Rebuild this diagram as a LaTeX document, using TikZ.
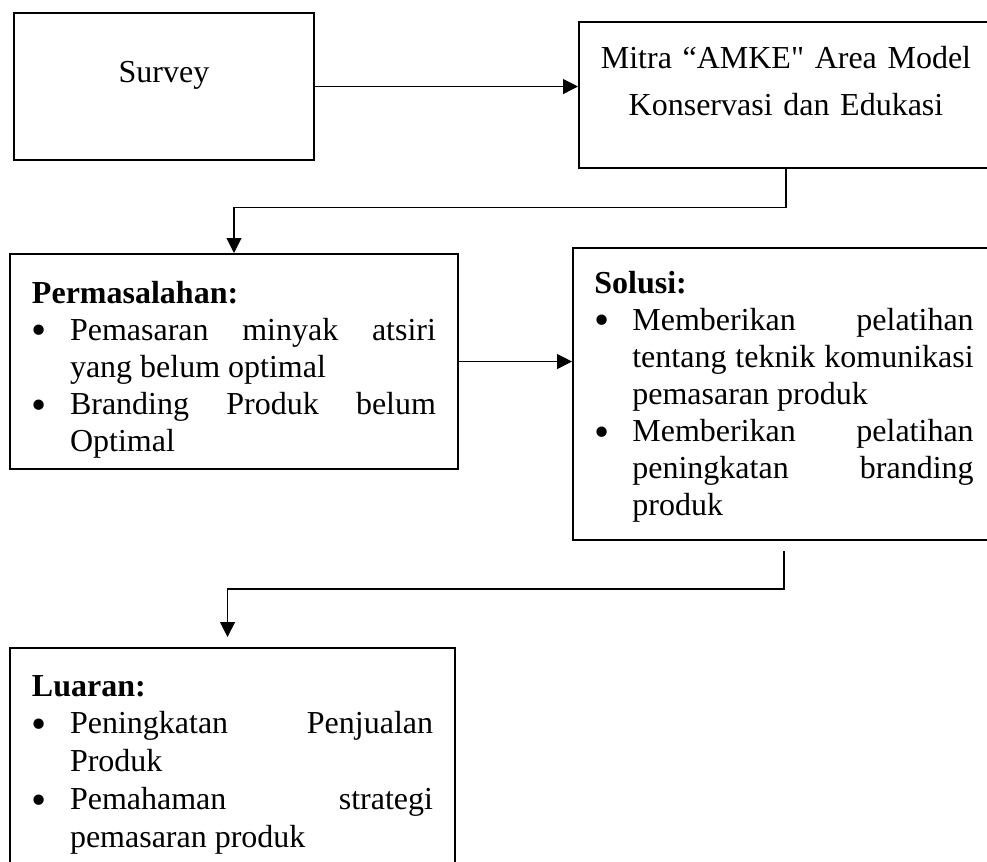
\documentclass[tikz,border=0pt]{standalone}
\usepackage{fontspec}
\setmainfont{Liberation Serif}[Ligatures=TeXOff]
\usetikzlibrary{positioning, arrows.meta, calc}
\tikzset{kotak/.style={
    draw,
    line width=0.75pt,
    anchor=north west,
    inner ysep=0pt,
    inner xsep=8.25pt,
    align=justify,
    font=\fontsize{12pt}{13.9pt}\selectfont
}}
\tikzset{judul/.style={
    kotak,
    inner xsep=4pt,
    align=center
}}
\newcommand{\butir}[1]{\par\noindent\hangindent=14.25pt\makebox[14.25pt][l]{\raisebox{-1.8pt}{\scalebox{1.35}{\textbullet}}}#1\par}
\hyphenpenalty=10000
\tolerance=9999

\begin{document}
\begin{tikzpicture}[
    x=0.375pt, y=-0.375pt,
    >={Triangle[length=5.6pt, width=5.6pt]},
    line width=0.4pt,
]
    \useasboundingbox (0,0) rectangle (987,862);
    \clip (0,0) rectangle (987,862);
    % Top row
    \node (survey) [judul, text width=104.5pt, text height=25.9pt, text depth=29.25pt] at (13,12) {Survey};
    \node (mitra)  [judul, text width=147.25pt, text height=17.6pt, text depth=37.1pt,
                    font=\fontsize{12pt}{17.6pt}\selectfont] at (578,21)
        {Mitra “AMKE" Area Model\\ Konservasi dan Edukasi};
    % Middle row
    \node (perm)   [kotak, text width=151.5pt, text height=18.4pt, text depth=62.25pt] at (9,253)
        {\textbf{Permasalahan:}
         \butir{Pemasaran minyak atsiri yang belum optimal}
         \butir{Branding Produk belum Optimal}};
    \node (solusi) [kotak, inner xsep=8pt, text width=142.25pt, text height=16.9pt, text depth=92.6pt] at (572,247)
        {\textbf{Solusi:}
         \butir{Memberikan pelatihan tentang teknik komunikasi pemasaran produk}
         \butir{Memberikan pelatihan peningkatan branding produk}};
    % Bottom row
    \node (luaran) [kotak, text width=150.4pt, text height=18pt, text depth=80pt,
                    font=\fontsize{12pt}{14.2pt}\selectfont] at (9,647)
        {\textbf{Luaran:}
         \butir{Peningkatan Penjualan Produk}
         \butir{Pemahaman strategi pemasaran produk}};
    \draw [->] (survey.east) -- (survey.east -| mitra.west);
    \draw [->] (mitra.south) -- ++(0,39) -| (perm.north);
    \draw [->] (perm.east) -- (perm.east -| solusi.west);
    \draw [->] ($ (solusi.south) + (0,10) $) -- ++(0,38) -| ($ (luaran.north) + (-5,-10) $);
\end{tikzpicture}
\end{document}
